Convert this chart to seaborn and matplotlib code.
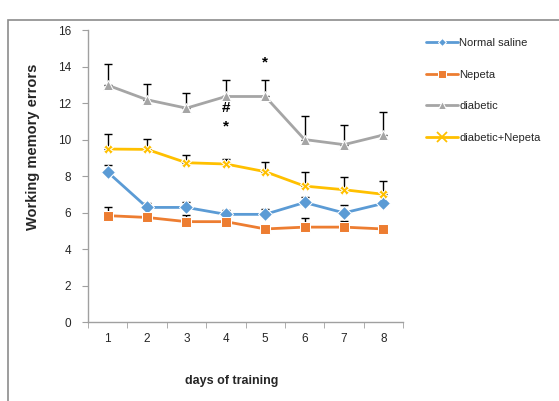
import numpy as np
import pandas as pd
import matplotlib
matplotlib.use("Agg")
import matplotlib.pyplot as plt
import seaborn as sns
from matplotlib.patches import Rectangle

days = [1, 2, 3, 4, 5, 6, 7, 8]
groups = ["Normal saline", "Nepeta", "diabetic", "diabetic+Nepeta"]

saline = [8.22, 6.28, 6.28, 5.9, 5.9, 6.55, 5.98, 6.5]
saline_err = [0.37, 0.25, 0.32, 0.22, 0.3, 0.28, 0.45, 0.0]
nepeta = [5.83, 5.73, 5.5, 5.5, 5.1, 5.2, 5.2, 5.1]
nepeta_err = [0.45, 0.1, 0.35, 0.1, 0.1, 0.5, 0.35, 0.0]
diabetic = [12.98, 12.18, 11.72, 12.36, 12.36, 10.0, 9.72, 10.25]
diabetic_err = [1.18, 0.88, 0.82, 0.92, 0.92, 1.28, 1.05, 1.25]
diab_nep = [9.48, 9.46, 8.73, 8.66, 8.24, 7.45, 7.25, 7.0]
diab_nep_err = [0.82, 0.58, 0.4, 0.25, 0.52, 0.78, 0.68, 0.72]

# significance marks: (day, y, symbol)
marks = [(5, 14.2, "*"), (4, 11.75, "#"), (4, 10.7, "*")]

colors = ["#5B9BD5", "#ED7D31", "#A5A5A5", "#FFC000"]
markers = ["D", "s", "^", "X"]

df = pd.DataFrame({
    "day": days * 4,
    "errors": saline + nepeta + diabetic + diab_nep,
    "sem": saline_err + nepeta_err + diabetic_err + diab_nep_err,
    "group": np.repeat(groups, len(days)),
})

sns.set_style("white")
plt.rcParams["font.family"] = ["Liberation Sans", "DejaVu Sans"]

fig = plt.figure(figsize=(5.59, 4.01), dpi=100)
ax = fig.add_axes([0.1574, 0.197, 0.5636, 0.728])

# upper error bars only, Excel style
for g in groups:
    sub = df[df["group"] == g]
    ax.errorbar(sub["day"], sub["errors"],
                yerr=[np.zeros(len(sub)), sub["sem"]],
                fmt="none", ecolor="black", elinewidth=1,
                capsize=3, capthick=1, zorder=1)

sns.lineplot(data=df, x="day", y="errors", hue="group", style="group",
             palette=colors, markers=markers, dashes=False,
             markersize=7, linewidth=2, ax=ax, zorder=3)

# per-series marker tweaks (thin x for diabetic+Nepeta, like Excel)
msize = {"Normal saline": 6, "Nepeta": 8, "diabetic": 8, "diabetic+Nepeta": 9}


def tweak(line, scale=1.0):
    lab = line.get_label()
    if lab in msize:
        line.set_markersize(msize[lab] * scale)
        if lab == "diabetic+Nepeta":
            line.set_marker("x")
            line.set_markeredgewidth(1.3)
            line.set_markeredgecolor(colors[3])


for line in ax.get_lines():
    tweak(line)

for d, y, s in marks:
    ax.text(d, y, s, ha="center", va="center", fontsize=11,
            fontweight="bold", color="black")

ax.set_xlim(0.5, 8.5)
ax.set_ylim(0, 16)
ax.set_yticks(range(0, 17, 2))
ax.set_xticks(days)
ax.set_xticks(np.arange(0.5, 9, 1), minor=True)
ax.tick_params(axis="x", which="major", length=0, labelsize=8.5, pad=8)
ax.tick_params(axis="x", which="minor", length=4, color="#a0a0a0",
               direction="out", bottom=True)
ax.tick_params(axis="y", length=4, color="#a0a0a0", direction="out",
               labelsize=8.5, pad=8, left=True)
for sp in ["top", "right"]:
    ax.spines[sp].set_visible(False)
for sp in ["left", "bottom"]:
    ax.spines[sp].set_color("#a0a0a0")
    ax.spines[sp].set_linewidth(1)
ax.set_xlabel("")
ax.set_ylabel("")

fig.text(33 / 559, 1 - 147 / 401, "Working memory errors", rotation=90,
         ha="center", va="center", fontsize=10.5, fontweight="bold")
fig.text(232 / 559, 1 - 381 / 401, "days of training",
         ha="center", va="center", fontsize=9, fontweight="bold")

handles, labels = ax.get_legend_handles_labels()
leg = ax.legend(handles, labels, loc="upper left",
                bbox_to_anchor=(416 / 559, 1 - 28 / 401),
                bbox_transform=fig.transFigure, frameon=False,
                fontsize=8, labelspacing=1.95, handlelength=2.9,
                handletextpad=0.1)
for h in leg.legend_handles:
    tweak(h, 0.75)

fig.patches.append(Rectangle((8 / 559, -0.1), 1.2, 1.075 - 10 / 401,
                             transform=fig.transFigure, fill=False,
                             edgecolor="#8c8c8c", linewidth=1.2))

fig.savefig("out.png", dpi=100)
